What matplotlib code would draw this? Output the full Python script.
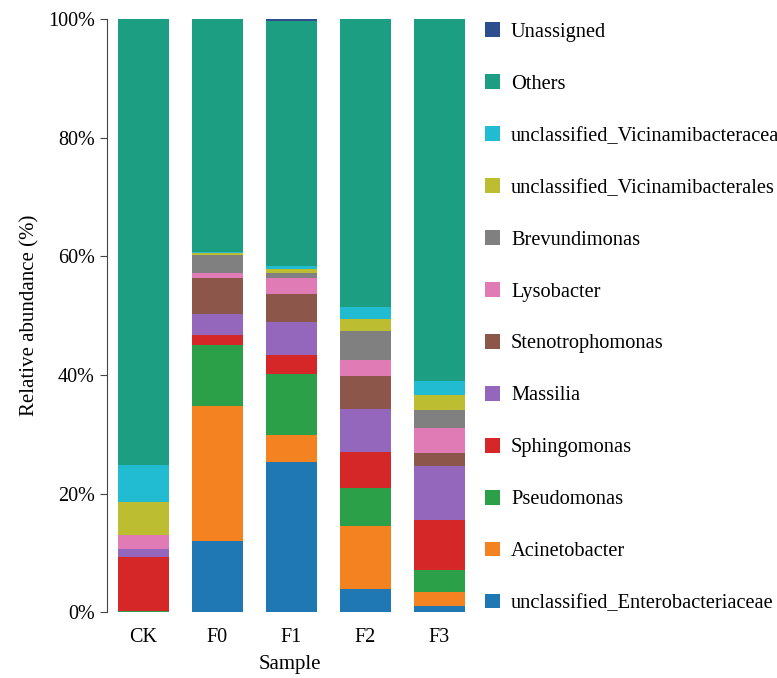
import numpy as np
import matplotlib
matplotlib.use("Agg")
import matplotlib.pyplot as plt
from matplotlib.patches import Patch

plt.rcParams['font.family'] = ['Liberation Serif', 'DejaVu Serif']

samples = ['CK', 'F0', 'F1', 'F2', 'F3']

# taxa from bottom of the stack to the top
taxa = ['unclassified_Enterobacteriaceae', 'Acinetobacter', 'Pseudomonas',
        'Sphingomonas', 'Massilia', 'Stenotrophomonas', 'Lysobacter',
        'Brevundimonas', 'unclassified_Vicinamibacterales',
        'unclassified_Vicinamibacteraceae', 'Others', 'Unassigned']

# relative abundance (%) per sample, same order as taxa
ck = [0.0, 0.0, 0.2, 9.1, 1.3, 0.0, 2.4, 0.0, 5.6, 6.2, 75.2, 0.0]
f0 = [12.0, 22.7, 10.3, 1.7, 3.6, 6.0, 0.8, 3.1, 0.3, 0.2, 39.3, 0.0]
f1 = [25.3, 4.5, 10.3, 3.2, 5.7, 4.6, 2.7, 0.9, 0.6, 0.6, 41.3, 0.3]
f2 = [3.9, 10.6, 6.4, 6.1, 7.2, 5.6, 2.7, 4.9, 2.1, 2.0, 48.5, 0.0]
f3 = [1.1, 2.3, 3.8, 8.3, 9.2, 2.2, 4.1, 3.1, 2.6, 2.3, 61.0, 0.0]

colors = ['#1f77b4', '#f58220', '#2ca048', '#d62728', '#9467bd', '#8c564b',
          '#e07bb5', '#808080', '#bcbd30', '#22bcd2', '#1c9e82', '#2d4e8e']

data = np.array([ck, f0, f1, f2, f3]).T  # rows = taxa, cols = samples

fig = plt.figure(figsize=(7.77, 6.78), dpi=100)
ax = fig.add_axes([0.138, 0.097, 0.47, 0.875])

x = np.arange(len(samples))
bottom = np.zeros(len(samples))
for i, name in enumerate(taxa):
    ax.bar(x, data[i], 0.69, bottom=bottom, color=colors[i], label=name)
    bottom += data[i]

ax.set_xlim(-0.49, 4.45)
ax.set_ylim(0, 100)
ax.set_yticks([0, 20, 40, 60, 80, 100])
ax.set_yticklabels(['0%', '20%', '40%', '60%', '80%', '100%'], fontsize=14.5)
ax.set_xticks(x)
ax.set_xticklabels(samples, fontsize=14.5)
ax.tick_params(axis='x', length=0, pad=11)
ax.tick_params(axis='y', length=5, color='#444444', pad=4)
ax.set_xlabel('Sample', fontsize=15, labelpad=6)
ax.set_ylabel('Relative abundance (%)', fontsize=15, labelpad=6)

for s in ['top', 'right', 'bottom']:
    ax.spines[s].set_visible(False)
ax.spines['left'].set_color('#444444')

# legend sits to the right of the axes, top entry first; long names run to the edge
handles = [Patch(facecolor=colors[i], edgecolor='none') for i in range(len(taxa))][::-1]
fig.legend(handles, taxa[::-1], loc='upper left', bbox_to_anchor=(0.624, 0.967),
           frameon=False, fontsize=14.7, handlelength=0.73, handleheight=0.73,
           handletextpad=0.55, labelspacing=1.59, borderaxespad=0, borderpad=0)

fig.savefig('out.png', dpi=100)
